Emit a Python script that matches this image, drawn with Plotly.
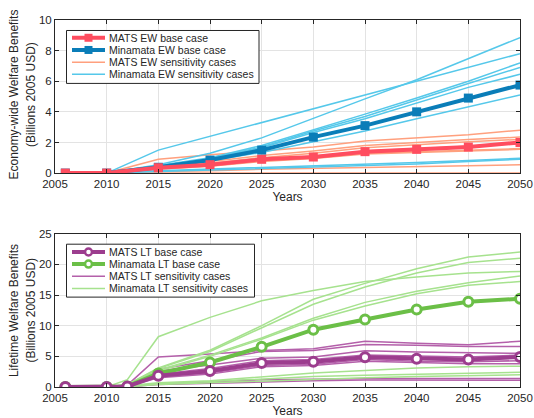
import plotly.graph_objects as go

# ---------------- data ----------------
years_ew = [2006, 2010, 2015, 2020, 2025, 2030, 2035, 2040, 2045, 2050]
years_lt = [2006, 2010, 2012, 2015, 2020, 2025, 2030, 2035, 2040, 2045, 2050]

mats_ew_base = [0, 0, 0.35, 0.55, 0.9, 1.05, 1.4, 1.55, 1.7, 2.0]
minamata_ew_base = [0, 0, 0.38, 0.85, 1.5, 2.35, 3.1, 4.0, 4.9, 5.75]

mats_ew_sens = [
    [0, 0, 0.9, 1.2, 1.45, 1.7, 2.1, 2.3, 2.5, 2.8],
    [0, 0, 0.4, 0.75, 1.15, 1.45, 1.8, 2.0, 2.2, 2.35],
    [0, 0, 0.35, 0.65, 1.0, 1.3, 1.65, 1.85, 2.05, 2.2],
    [0, 0, 0.3, 0.55, 0.9, 1.1, 1.45, 1.6, 1.75, 1.95],
    [0, 0, 0.3, 0.5, 0.8, 1.0, 1.3, 1.4, 1.5, 1.6],
    [0, 0, 0.25, 0.45, 0.75, 0.95, 1.25, 1.35, 1.45, 1.55],
    [0, 0, 0.1, 0.15, 0.25, 0.3, 0.35, 0.4, 0.48, 0.55],
    [0, 0, 0, 0, 0, 0, 0, 0, 0, 0],
]
minamata_ew_sens = [
    [0, 0, 1.5, 2.4, 3.3, 4.15, 5.1, 5.95, 6.85, 7.8],
    [0, 0, 0.55, 1.3, 2.3, 3.6, 4.85, 6.1, 7.5, 8.85],
    [0, 0, 0.5, 1.0, 1.8, 2.8, 3.85, 4.9, 6.0, 7.2],
    [0, 0, 0.45, 0.95, 1.7, 2.75, 3.7, 4.8, 5.85, 6.9],
    [0, 0, 0.45, 0.95, 1.65, 2.65, 3.55, 4.6, 5.6, 6.45],
    [0, 0, 0.35, 0.8, 1.35, 2.05, 2.75, 3.55, 4.35, 5.1],
    [0, 0, 0.15, 0.25, 0.35, 0.45, 0.55, 0.7, 0.82, 0.97],
    [0, 0, 0.1, 0.2, 0.3, 0.4, 0.5, 0.6, 0.75, 0.9],
]

mats_lt_base = [0, 0, 0.1, 1.85, 2.6, 3.9, 4.1, 4.85, 4.6, 4.5, 4.9]
minamata_lt_base = [0, 0, 0.1, 2.2, 4.0, 6.55, 9.35, 11.0, 12.65, 13.9, 14.4]

mats_lt_sens = [
    [0, 0, 0.3, 4.9, 5.4, 5.95, 6.25, 7.45, 7.15, 6.9, 7.45],
    [0, 0, 0.2, 2.9, 4.3, 5.8, 5.95, 6.95, 6.8, 6.6, 6.6],
    [0, 0, 0.2, 2.6, 3.6, 4.7, 4.9, 5.9, 5.7, 5.6, 5.5],
    [0, 0, 0.1, 2.1, 3.0, 4.3, 4.5, 5.2, 5.0, 4.9, 5.2],
    [0, 0, 0.1, 1.7, 2.3, 3.5, 3.7, 4.5, 4.2, 4.1, 4.3],
    [0, 0, 0.1, 1.5, 2.1, 3.3, 3.5, 4.2, 4.0, 3.8, 3.8],
    [0, 0, 0.05, 0.5, 0.8, 1.2, 1.25, 1.4, 1.4, 1.4, 1.4],
    [0, 0, 0.05, 0.4, 0.6, 0.9, 1.0, 1.15, 1.1, 1.1, 1.1],
]
minamata_lt_sens = [
    [0, 0, 1.2, 8.2, 11.35, 14.05, 15.75, 17.2, 17.95, 18.6, 18.85],
    [0, 0, 0.4, 3.1, 6.0, 10.0, 14.3, 16.9, 19.3, 21.2, 22.0],
    [0, 0, 0.4, 3.0, 5.8, 9.6, 13.5, 16.3, 18.6, 20.3, 21.0],
    [0, 0, 0.3, 2.8, 5.2, 8.0, 11.2, 13.8, 15.6, 17.0, 18.1],
    [0, 0, 0.3, 2.6, 5.0, 7.8, 10.9, 13.2, 15.2, 16.6, 17.2],
    [0, 0, 0.2, 0.7, 1.0, 1.6, 2.3, 2.7, 3.1, 3.3, 3.4],
    [0, 0, 0.1, 0.5, 0.9, 1.3, 1.7, 1.9, 2.1, 2.3, 2.4],
    [0, 0, 0.05, 0.4, 0.7, 1.0, 1.3, 1.5, 1.7, 1.85, 2.0],
]

top_legend_labels = ["MATS EW base case", "Minamata EW base case",
                     "MATS EW sensitivity cases", "Minamata EW sensitivity cases"]
bottom_legend_labels = ["MATS LT base case", "Minamata LT base case",
                        "MATS LT sensitivity cases", "Minamata LT sensitivity cases"]

# ---------------- colours ----------------
C_MATS_EW = "#ff4d5f"
C_MIN_EW = "#0a7db8"
C_MATS_EW_S = "#ffa07e"
C_MIN_EW_S = "#55c8ea"
C_MATS_LT = "#9c3d8e"
C_MIN_LT = "#6bbf47"
C_MATS_LT_S = "#b460aa"
C_MIN_LT_S = "#a6e28e"
INK = "#262626"

# ---------------- geometry (pixels of the 534x418 canvas) ----------------
W, H = 534, 418
L, R, T, B = 55, 14, 20, 30.5
PW, PH = W - L - R, H - T - B


def px(xp):
    return (xp - L) / PW


def py(yp):
    return (H - B - yp) / PH


fig = go.Figure()

# top panel
for s in mats_ew_sens:
    fig.add_trace(go.Scatter(x=years_ew, y=s, mode="lines", line=dict(color=C_MATS_EW_S, width=1.5),
                             showlegend=False, xaxis="x", yaxis="y", hoverinfo="skip"))
for s in minamata_ew_sens:
    fig.add_trace(go.Scatter(x=years_ew, y=s, mode="lines", line=dict(color=C_MIN_EW_S, width=1.5),
                             showlegend=False, xaxis="x", yaxis="y", hoverinfo="skip"))
fig.add_trace(go.Scatter(x=years_ew, y=minamata_ew_base, mode="lines+markers",
                         line=dict(color=C_MIN_EW, width=4), marker=dict(symbol="square", size=9, color=C_MIN_EW),
                         name=top_legend_labels[1], showlegend=False, xaxis="x", yaxis="y"))
fig.add_trace(go.Scatter(x=years_ew, y=mats_ew_base, mode="lines+markers",
                         line=dict(color=C_MATS_EW, width=4), marker=dict(symbol="square", size=9, color=C_MATS_EW),
                         name=top_legend_labels[0], showlegend=False, xaxis="x", yaxis="y"))

# bottom panel
for s in mats_lt_sens:
    fig.add_trace(go.Scatter(x=years_lt, y=s, mode="lines", line=dict(color=C_MATS_LT_S, width=1.5),
                             showlegend=False, xaxis="x2", yaxis="y2", hoverinfo="skip"))
for s in minamata_lt_sens:
    fig.add_trace(go.Scatter(x=years_lt, y=s, mode="lines", line=dict(color=C_MIN_LT_S, width=1.5),
                             showlegend=False, xaxis="x2", yaxis="y2", hoverinfo="skip"))
fig.add_trace(go.Scatter(x=years_lt, y=minamata_lt_base, mode="lines+markers",
                         line=dict(color=C_MIN_LT, width=4),
                         marker=dict(symbol="circle", size=9, color="white", line=dict(color=C_MIN_LT, width=3)),
                         name=bottom_legend_labels[1], showlegend=False, xaxis="x2", yaxis="y2"))
fig.add_trace(go.Scatter(x=years_lt, y=mats_lt_base, mode="lines+markers",
                         line=dict(color=C_MATS_LT, width=4),
                         marker=dict(symbol="circle", size=9, color="white", line=dict(color=C_MATS_LT, width=3)),
                         name=bottom_legend_labels[0], showlegend=False, xaxis="x2", yaxis="y2"))

# ---------------- compact legends (MATLAB style) ----------------
shapes = []
annotations = []


def add_legend(box, rows, labels, styles):
    x0, y0, x1, y1 = box
    shapes.append(dict(type="rect", xref="paper", yref="paper", x0=px(x0), x1=px(x1), y0=py(y0), y1=py(y1),
                       line=dict(color=INK, width=1), fillcolor="white", layer="above"))
    for yr, lab, (col, wid, mk) in zip(rows, labels, styles):
        shapes.append(dict(type="line", xref="paper", yref="paper", x0=px(72), x1=px(105), y0=py(yr), y1=py(yr),
                           line=dict(color=col, width=wid), layer="above"))
        if mk == "square":
            shapes.append(dict(type="rect", xref="paper", yref="paper", x0=px(84.5), x1=px(92.5),
                               y0=py(yr - 4), y1=py(yr + 4), line=dict(color=col, width=0), fillcolor=col,
                               layer="above"))
        elif mk == "circle":
            shapes.append(dict(type="circle", xref="paper", yref="paper", x0=px(85), x1=px(92),
                               y0=py(yr - 3.5), y1=py(yr + 3.5), line=dict(color=col, width=2.5),
                               fillcolor="white", layer="above"))
        annotations.append(dict(xref="paper", yref="paper", x=px(107), y=py(yr), text=lab, showarrow=False,
                                xanchor="left", yanchor="middle", font=dict(size=10.5, color=INK)))


add_legend((66.5, 30.5, 259, 83.5), [37.8, 50, 62.2, 74.4], top_legend_labels,
           [(C_MATS_EW, 4, "square"), (C_MIN_EW, 4, "square"), (C_MATS_EW_S, 1.5, None), (C_MIN_EW_S, 1.5, None)])
add_legend((66.5, 244.5, 254.5, 297.5), [252.3, 264.4, 276.6, 288.8], bottom_legend_labels,
           [(C_MATS_LT, 4, "circle"), (C_MIN_LT, 4, "circle"), (C_MATS_LT_S, 1.5, None), (C_MIN_LT_S, 1.5, None)])

# y-axis titles (two lines each, MATLAB spacing)
for (line1, line2, yc) in [("Economy-wide Welfare Benefits", "(Billions 2005 USD)", 95),
                           ("Lifetime Welfare Benefits", "(Billions 2005 USD)", 311)]:
    annotations.append(dict(xref="paper", yref="paper", x=px(13.5), y=py(yc), text=line1, showarrow=False,
                            textangle=-90, xanchor="center", yanchor="middle", font=dict(size=12, color=INK)))
    annotations.append(dict(xref="paper", yref="paper", x=px(31), y=py(yc), text=line2, showarrow=False,
                            textangle=-90, xanchor="center", yanchor="middle", font=dict(size=12, color=INK)))

axis_common = dict(showline=True, linecolor=INK, linewidth=1, mirror="ticks", ticks="inside",
                   ticklen=4, tickcolor=INK, showgrid=True, gridcolor="#e3e3e3", gridwidth=1,
                   zeroline=False, tickfont=dict(size=11.5, color=INK), automargin=False)

fig.update_layout(
    width=W, height=H,
    margin=dict(l=L, r=R, t=T, b=B),
    paper_bgcolor="white", plot_bgcolor="white",
    font=dict(family="Liberation Sans, Arial, sans-serif", size=12, color=INK),
    xaxis=dict(range=[2005, 2050], dtick=5, tick0=2005, anchor="y",
               title=dict(text="Years", standoff=0, font=dict(size=12)), **axis_common),
    yaxis=dict(range=[0, 10], dtick=2, domain=[py(173.3), 1.0], anchor="x", **axis_common),
    xaxis2=dict(range=[2005, 2050], dtick=5, tick0=2005, anchor="y2",
                title=dict(text="Years", standoff=0, font=dict(size=12)), **axis_common),
    yaxis2=dict(range=[0, 25], dtick=5, domain=[0.0, py(234)], anchor="x2", **axis_common),
    showlegend=False,
    shapes=shapes,
    annotations=annotations,
)

fig.write_html("out.html", config={"displayModeBar": False},
               post_script="document.body.style.margin='0';")
